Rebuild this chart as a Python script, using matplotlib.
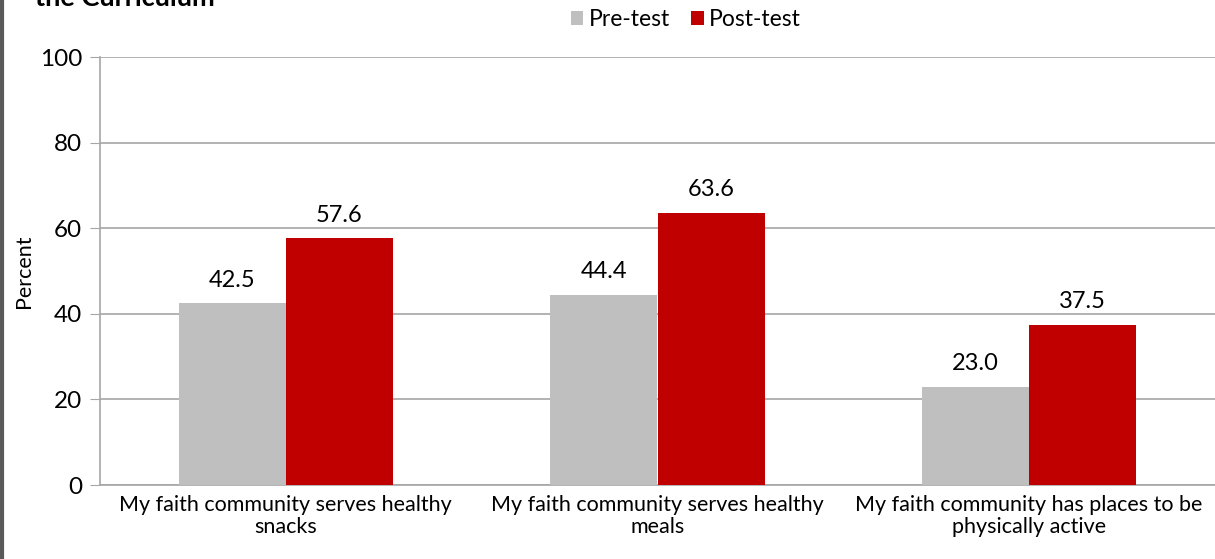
import matplotlib.pyplot as plt
from matplotlib.lines import Line2D
import numpy as np

categories = ["My faith community serves healthy\nsnacks",
              "My faith community serves healthy\nmeals",
              "My faith community has places to be\nphysically active"]
pre_test = [42.5, 44.4, 23.0]
post_test = [57.6, 63.6, 37.5]
series_names = ["Pre-test", "Post-test"]

plt.rcParams['font.family'] = ['Lato', 'DejaVu Sans']

W, H = 1215, 559
fig = plt.figure(figsize=(W / 100, H / 100), dpi=100)
ax = fig.add_axes([100 / W, 1 - 485 / H, (W - 100) / W, (485 - 57) / H])

x = np.arange(len(categories))
bw = 0.288
gray = "#bfbfbf"
red = "#c00000"
b1 = ax.bar(x - bw / 2, pre_test, bw, color=gray, label=series_names[0], zorder=3)
b2 = ax.bar(x + bw / 2, post_test, bw, color=red, label=series_names[1], zorder=3)

for bars in (b1, b2):
    for r in bars:
        v = r.get_height()
        ax.annotate(f"{v:.1f}", (r.get_x() + r.get_width() / 2, v),
                    xytext=(0, 9), textcoords="offset points",
                    ha="center", va="bottom", fontsize=17)

ax.set_xlim(-0.5, 2.5)
ax.set_ylim(0, 100)
ax.set_yticks(range(0, 101, 20))
ax.yaxis.grid(True, color="#a6a6a6", linewidth=1.2, zorder=0)
ax.tick_params(axis='y', length=7, color="#a6a6a6", labelsize=17.5, pad=6)
ax.tick_params(axis='x', length=0, labelsize=15.5, pad=7)
ax.set_xticks(x)
ax.set_xticklabels(categories, linespacing=1.15)
for s in ("top", "right"):
    ax.spines[s].set_visible(False)
for s in ("left", "bottom"):
    ax.spines[s].set_color("#a6a6a6")
    ax.spines[s].set_linewidth(1.2)
ax.set_ylabel("Percent", fontsize=15.5)
ax.yaxis.set_label_coords(-66 / (W - 100), 0.5)

ax.legend(loc="center", bbox_to_anchor=(586 / (W - 100), 1 + 37 / 428),
          ncol=2, frameon=False, fontsize=16.5, handlelength=0.55, handleheight=0.55,
          handletextpad=0.25, columnspacing=0.9, borderpad=0)

# only the last line of the original title is visible in the crop
fig.text(35 / W, 1 - 6 / H, "the Curriculum", fontsize=19.5, fontweight="bold",
         va="baseline", ha="left")
fig.add_artist(Line2D([1.5 / W, 1.5 / W], [0, 1], color="#595959", linewidth=3,
                      transform=fig.transFigure))

fig.savefig("out.png", dpi=100)
